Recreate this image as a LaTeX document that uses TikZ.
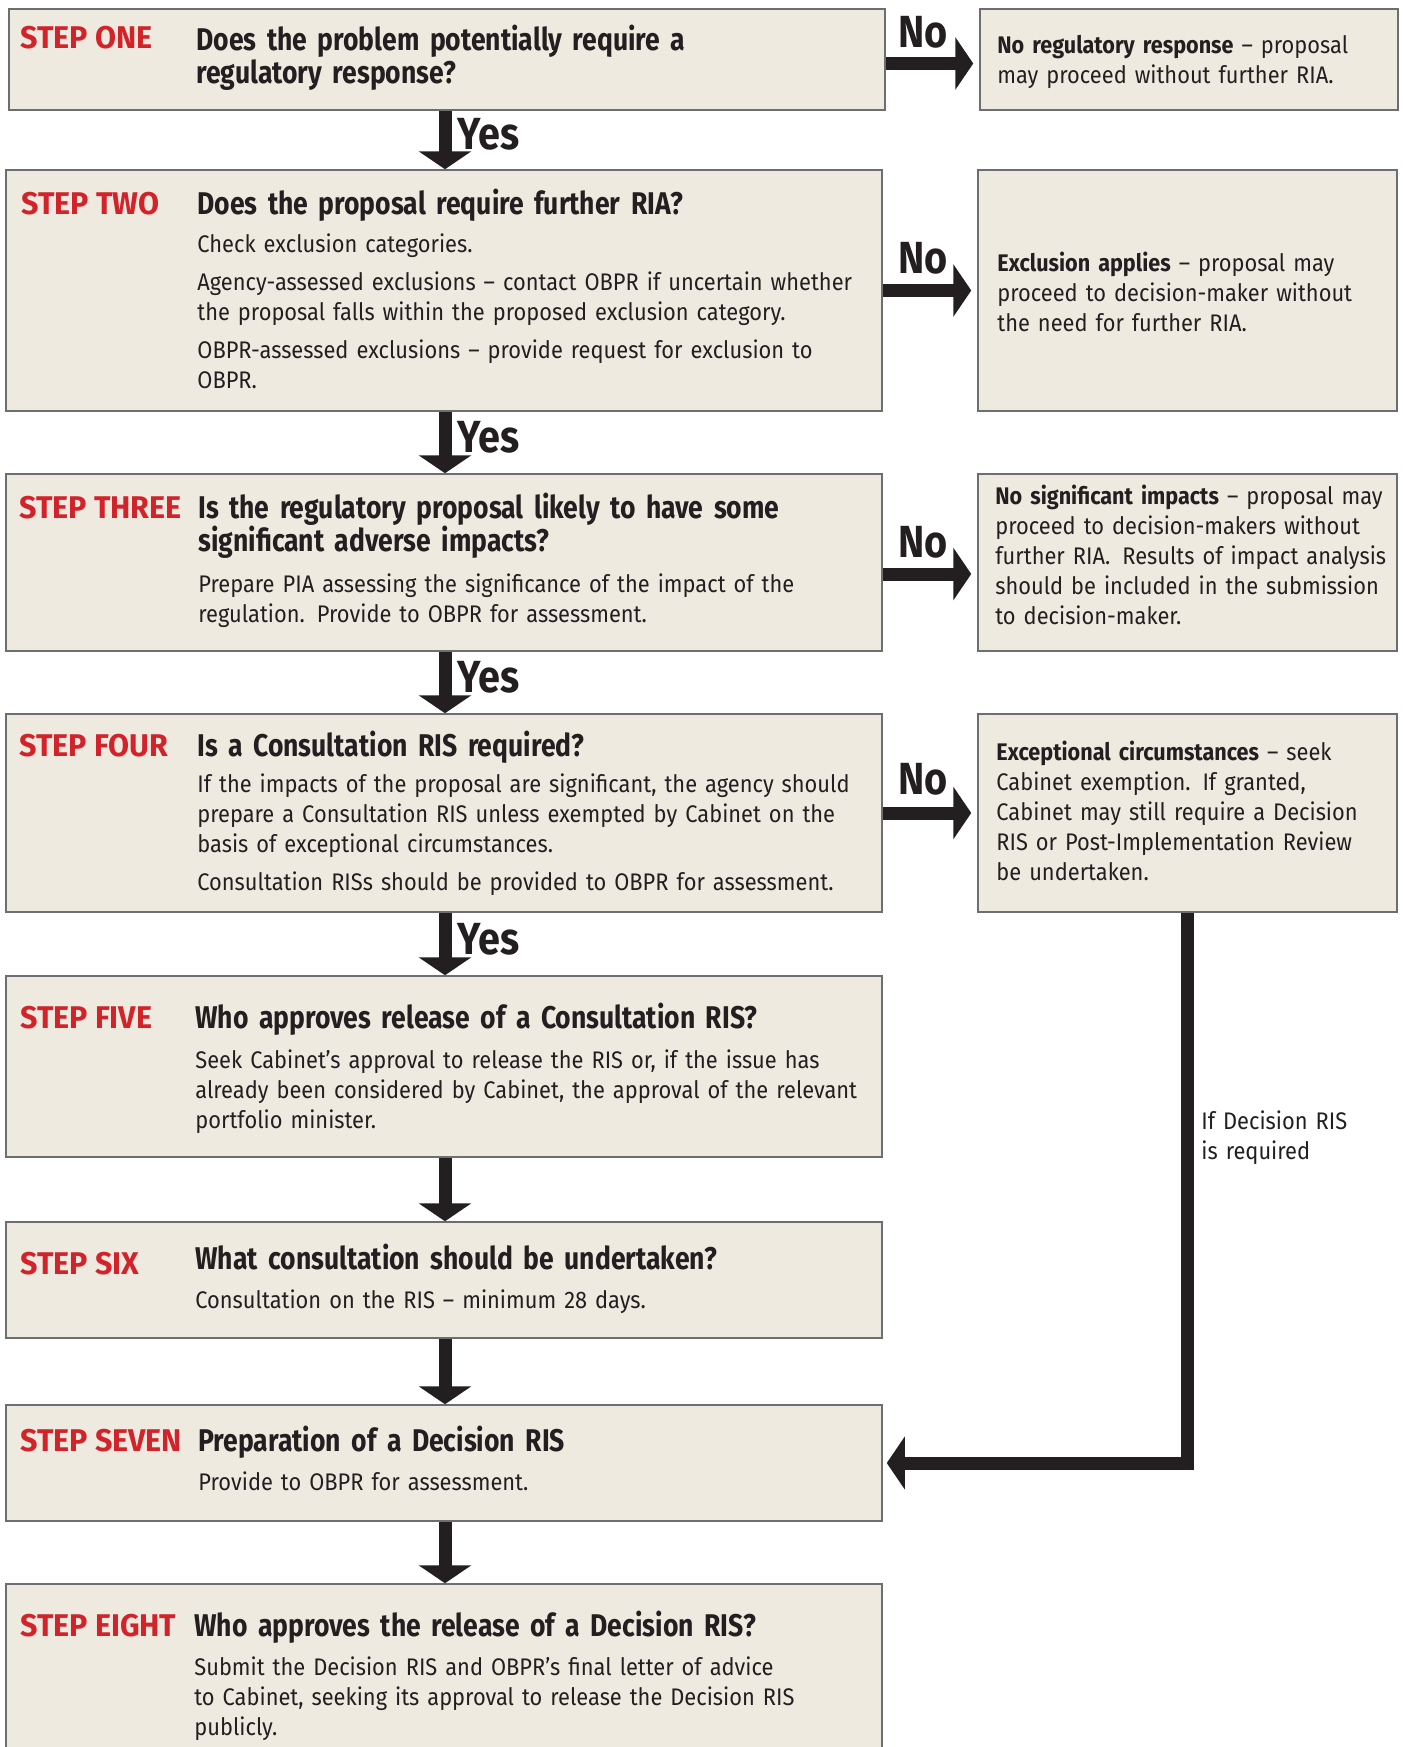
\documentclass[tikz,border=0pt]{standalone}
\usepackage{fontspec}
\setmainfont{Fira Sans}[FakeStretch=0.91]
\newfontfamily\condfont{Fira Sans}[FakeStretch=0.845]
\newfontfamily\stepfont{Fira Sans}[FakeStretch=0.97]
\newfontfamily\answerfont{Fira Sans}[FakeStretch=0.88]
\newfontfamily\leadfont{Fira Sans}[FakeStretch=0.9]
\usetikzlibrary{arrows.meta,fit,positioning}
\definecolor{boxfill}{HTML}{EFEAE0}
\definecolor{boxline}{HTML}{6D6E71}
\definecolor{stepred}{HTML}{D2232A}
\definecolor{ink}{HTML}{231F20}
\newcommand{\headsize}{\fontsize{15.7}{16.5}\selectfont}
\newcommand{\textsz}{\fontsize{12}{15}\selectfont}

\begin{document}
\begin{tikzpicture}[x=0.5pt, y=-0.5pt,
        box/.style={draw=boxline, line width=0.75pt, fill=boxfill, inner sep=0pt},
        steplabel/.style={anchor=base west, inner sep=0pt, text=stepred,
            font=\stepfont\bfseries\headsize},
        question/.style={anchor=base west, inner sep=0pt, text=ink, align=left,
            text width=340pt, font=\condfont\bfseries\headsize},
        detail/.style={anchor=base west, inner sep=0pt, text=ink, align=left,
            text width=340pt, font=\textsz},
        outcome/.style={anchor=base west, inner sep=0pt, text=ink, align=left,
            text width=200pt, font=\textsz},
        answer/.style={anchor=base west, inner sep=0pt, text=ink,
            font=\answerfont\bfseries\fontsize{22.5}{24}\selectfont},
        flow/.style={draw=ink, line width=6.5pt, -{Triangle[width=26pt,length=9pt]}}]
    \useasboundingbox (0,0) rectangle (1403,1747);

    % boxes
    \node[box, fit={(9,9) (885,110)}] (one) {};
    \node[box, fit={(980,9) (1398,110)}] (none) {};
    \node[box, fit={(6,170) (882,411)}] (two) {};
    \node[box, fit={(978,170) (1397,411)}] (ntwo) {};
    \node[box, fit={(6,474) (882,651)}] (three) {};
    \node[box, fit={(978,474) (1397,651)}] (nthree) {};
    \node[box, fit={(6,714) (882,912)}] (four) {};
    \node[box, fit={(978,714) (1397,912)}] (nfour) {};
    \node[box, fit={(6,976) (882,1157)}] (five) {};
    \node[box, fit={(6,1222) (882,1338)}] (six) {};
    \node[box, fit={(6,1405) (882,1521)}] (seven) {};
    \node[box, fit={(6,1584) (882,1775)}] (eight) {};

    % step one
    \node[steplabel] (oneL) at (20,48) {STEP ONE};
    \node[question] (oneQ) at (196,50) {Does the problem potentially require a\\regulatory response?};
    \node[outcome] (noneT) at (997,53.5) {{\leadfont\bfseries No regulatory response} – proposal\\may proceed without further RIA.};

    % step two
    \node[steplabel] (twoL) at (21,214) {STEP TWO};
    \node[question] (twoQ) at (197,214) {Does the proposal require further RIA?};
    \node[detail] (twoB) at (197,252) {Check exclusion categories.\\[4pt]
        Agency-assessed exclusions – contact OBPR if uncertain whether\\
        the proposal falls within the proposed exclusion category.\\[4pt]
        OBPR-assessed exclusions – provide request for exclusion to\\OBPR.};
    \node[outcome] (ntwoT) at (997,271) {{\leadfont\bfseries Exclusion applies} – proposal may\\
        proceed to decision-maker without\\the need for further RIA.};

    % step three
    \node[steplabel] (threeL) at (19,518) {STEP THREE};
    \node[question] (threeQ) at (198,518) {Is the regulatory proposal likely to have some\\significant adverse impacts?};
    \node[detail] (threeB) at (198,592) {Prepare PIA assessing the significance of the impact of the\\
        regulation.\enspace Provide to OBPR for assessment.};
    \node[outcome] (nthreeT) at (995,504) {{\leadfont\bfseries No significant impacts} – proposal may\\
        proceed to decision-makers without\\further RIA.\enspace Results of impact analysis\\
        should be included in the submission\\to decision-maker.};

    % step four
    \node[steplabel] (fourL) at (19,756) {STEP FOUR};
    \node[question] (fourQ) at (197,756) {Is a Consultation RIS required?};
    \node[detail] (fourB) at (197,792) {If the impacts of the proposal are significant, the agency should\\
        prepare a Consultation RIS unless exempted by Cabinet on the\\
        basis of exceptional circumstances.\\[4pt]
        Consultation RISs should be provided to OBPR for assessment.};
    \node[outcome] (nfourT) at (996,760) {{\leadfont\bfseries Exceptional circumstances} – seek\\
        Cabinet exemption.\enspace If granted,\\Cabinet may still require a Decision\\
        RIS or Post-Implementation Review\\be undertaken.};

    % step five
    \node[steplabel] (fiveL) at (20,1028) {STEP FIVE};
    \node[question] (fiveQ) at (195,1028) {Who approves release of a Consultation RIS?};
    \node[detail] (fiveB) at (195,1068) {Seek Cabinet’s approval to release the RIS or, if the issue has\\
        already been considered by Cabinet, the approval of the relevant\\portfolio minister.};

    % step six
    \node[steplabel] (sixL) at (20,1274) {STEP SIX};
    \node[question] (sixQ) at (195,1269) {What consultation should be undertaken?};
    \node[detail] (sixB) at (195,1308) {Consultation on the RIS – minimum 28 days.};

    % step seven
    \node[steplabel] (sevenL) at (20,1451) {STEP SEVEN};
    \node[question] (sevenQ) at (198,1451) {Preparation of a Decision RIS};
    \node[detail] (sevenB) at (198,1490) {Provide to OBPR for assessment.};

    % step eight
    \node[steplabel] (eightL) at (20,1636) {STEP EIGHT};
    \node[question] (eightQ) at (194,1636) {Who approves the release of a Decision RIS?};
    \node[detail] (eightB) at (194,1675) {Submit the Decision RIS and OBPR’s final letter of advice\\
        to Cabinet, seeking its approval to release the Decision RIS\\publicly.};

    % yes arrows
    \coordinate (spine) at (445,0);
    \draw[flow] (one.south -| spine) -- (two.north -| spine);
    \draw[flow] (two.south -| spine) -- (three.north -| spine);
    \draw[flow] (three.south -| spine) -- (four.north -| spine);
    \draw[flow] (four.south -| spine) -- (five.north -| spine);
    \draw[flow] (five.south -| spine) -- (six.north -| spine);
    \draw[flow] (six.south -| spine) -- (seven.north -| spine);
    \draw[flow] (seven.south -| spine) -- (eight.north -| spine);
    \node[answer] (yes1) at (457,149) {Yes};
    \node[answer] (yes2) at (457,452) {Yes};
    \node[answer] (yes3) at (457,692) {Yes};
    \node[answer] (yes4) at (457,954) {Yes};

    % no arrows
    \draw[flow, shorten >=3pt] ([yshift=-2pt]one.east) -- ([yshift=-2pt]none.west);
    \draw[flow, shorten >=3pt] (two.east) -- (ntwo.west);
    \draw[flow, shorten >=3pt] ([yshift=-5.75pt]three.east) -- ([yshift=-5.75pt]nthree.west);
    \draw[flow, shorten >=3pt] (four.east) -- (nfour.west);
    \node[answer] (no1) at (898,47) {No};
    \node[answer] (no2) at (898,273) {No};
    \node[answer] (no3) at (898,557) {No};
    \node[answer] (no4) at (898,794) {No};

    % decision RIS path
    \draw[flow] (nfour.south) |- ([xshift=2pt]seven.east);
    \node[outcome] (ifT) at (1201,1129) {If Decision RIS\\is required};
\end{tikzpicture}
\end{document}
